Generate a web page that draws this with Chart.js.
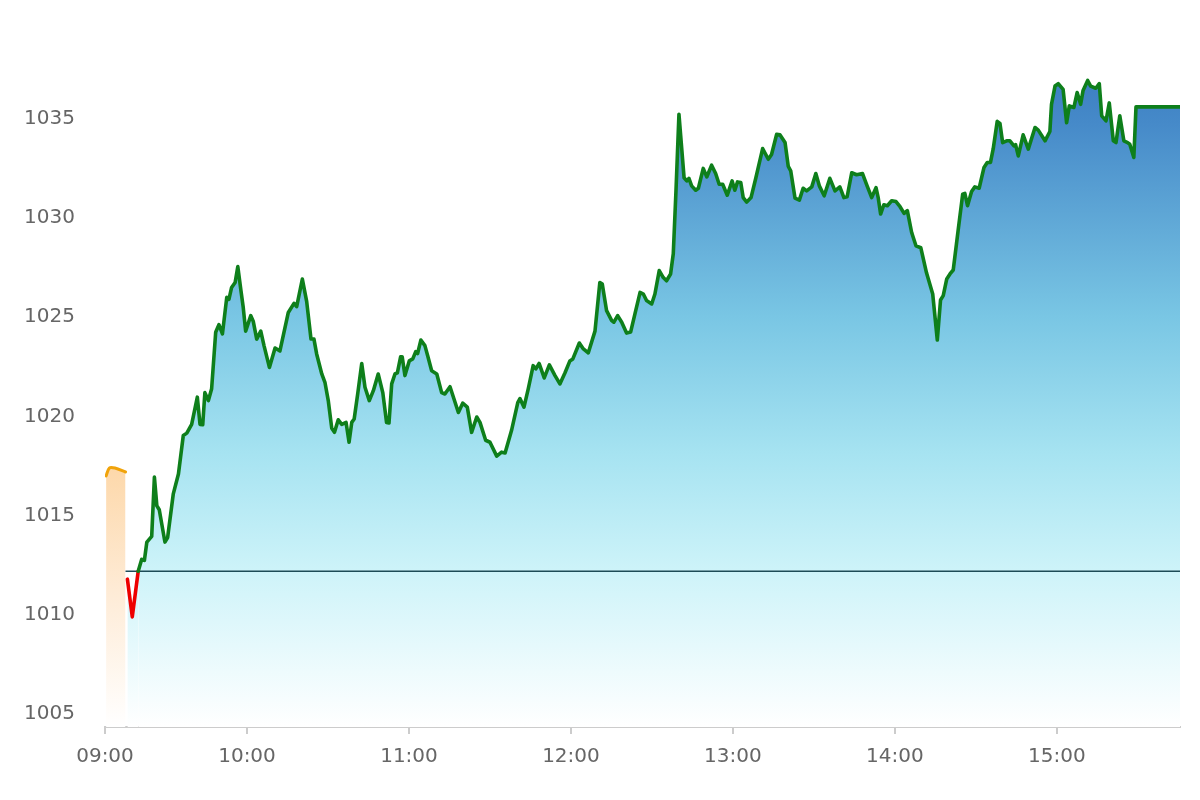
<!DOCTYPE html>
<html>
<head>
<meta charset="utf-8">
<title>Intraday index</title>
<script src="https://cdn.jsdelivr.net/npm/chart.js@4.4.1/dist/chart.umd.min.js"></script>
<style>
  html, body { margin: 0; padding: 0; background: #fff; }
  #wrap { width: 1200px; height: 800px; }
</style>
</head>
<body>
<div id="wrap"><canvas id="chart" width="1200" height="800"></canvas></div>
<script>
// Minutes after 09:00 and index values.
const preTimes = [7.8, 9.0, 11.1, 15.0];
const preValues = [1017.0, 1017.4, 1017.4, 1017.2];

const priceTimes = [
  15.7, 17.5, 19.7, 21.0, 22.0, 22.9, 24.7, 25.7, 26.6, 27.5,
  29.6, 30.6, 32.7, 34.6, 36.4, 37.7, 39.5, 41.6, 42.6, 43.6,
  44.4, 45.7, 46.9, 48.4, 49.6, 50.9, 52.5, 53.3, 54.3, 55.6,
  56.6, 57.7, 58.6, 59.5, 61.4, 62.3, 63.6, 65.1, 66.3, 68.3,
  70.4, 72.2, 75.3, 77.4, 78.4, 80.5, 82.1, 83.7, 84.8, 85.8,
  87.7, 88.9, 90.1, 91.4, 92.4, 93.8, 95.1, 96.7, 97.8, 98.8,
  99.7, 101.0, 102.5, 103.7, 105.3, 106.8, 108.6, 110.3, 111.7, 112.6,
  113.6, 114.8, 115.7, 116.9, 117.5, 118.5, 120.1, 121.4, 122.5, 123.2,
  124.4, 125.9, 126.9, 128.4, 130.3, 132.1, 133.3, 135.2, 138.3, 139.9,
  141.6, 143.2, 145.1, 146.3, 148.4, 150.0, 152.5, 154.3, 155.6, 158.0,
  160.3, 161.1, 162.6, 164.2, 166.0, 167.0, 168.2, 170.1, 172.0, 174.1,
  175.9, 177.8, 179.6, 180.7, 183.1, 184.6, 186.4, 188.9, 190.7, 191.6,
  193.2, 195.1, 195.9, 197.3, 198.8, 200.6, 202.1, 203.7, 205.6, 206.8,
  208.0, 209.9, 211.1, 212.7, 214.2, 215.4, 216.9, 217.9, 218.9, 220.0,
  220.7, 221.9, 222.9, 223.7, 224.7, 226.2, 227.2, 229.0, 230.3, 232.1,
  233.6, 234.9, 236.2, 237.9, 239.7, 240.7, 241.7, 242.9, 243.8, 245.1,
  246.7, 248.5, 251.0, 253.1, 254.3, 256.2, 257.4, 259.3, 260.5, 261.4,
  263.0, 264.6, 266.0, 267.3, 269.2, 270.7, 272.0, 273.8, 275.9, 277.8,
  279.6, 281.1, 282.3, 284.0, 285.8, 288.0, 289.7, 291.4, 293.0, 293.8,
  294.7, 295.9, 297.2, 298.8, 300.4, 301.9, 303.4, 304.6, 306.2, 307.8,
  309.6, 311.7, 314.0, 315.7, 316.9, 317.9, 319.2, 320.4, 321.6, 323.4,
  325.1, 325.9, 326.9, 328.4, 329.6, 331.2, 333.0, 334.2, 335.4, 336.4,
  337.9, 338.9, 339.9, 341.4, 342.6, 344.1, 344.7, 345.7, 347.5, 349.4,
  351.9, 353.1, 355.6, 357.4, 358.0, 359.3, 360.5, 362.3, 363.6, 364.6,
  366.3, 367.5, 368.8, 369.7, 371.4, 372.5, 374.4, 375.7, 376.6, 378.2,
  379.4, 380.9, 381.9, 383.3, 384.8, 386.2, 387.0, 388.5, 389.3, 405.6
];
const priceValues = [
  1011.8, 1009.9, 1012.2, 1012.8, 1012.75, 1013.67, 1013.96, 1016.94, 1015.5, 1015.3,
  1013.67, 1013.9, 1016.1, 1017.1, 1019.04, 1019.16, 1019.6, 1020.97, 1019.6, 1019.58,
  1021.2, 1020.8, 1021.4, 1024.24, 1024.63, 1024.16, 1026.0, 1025.9, 1026.5, 1026.75,
  1027.55, 1026.4, 1025.5, 1024.3, 1025.08, 1024.8, 1023.9, 1024.3, 1023.57, 1022.47,
  1023.45, 1023.3, 1025.24, 1025.7, 1025.53, 1026.92, 1025.8, 1023.9, 1023.9, 1023.15,
  1022.14, 1021.7, 1020.8, 1019.4, 1019.2, 1019.83, 1019.6, 1019.7, 1018.7, 1019.7,
  1019.87, 1021.13, 1022.67, 1021.47, 1020.8, 1021.3, 1022.14, 1021.2, 1019.7, 1019.67,
  1021.64, 1022.14, 1022.2, 1023.0, 1023.0, 1022.06, 1022.8, 1022.9, 1023.27, 1023.17,
  1023.85, 1023.57, 1023.07, 1022.3, 1022.14, 1021.2, 1021.13, 1021.5, 1020.2, 1020.67,
  1020.47, 1019.2, 1019.97, 1019.7, 1018.8, 1018.7, 1018.0, 1018.2, 1018.16, 1019.3,
  1020.7, 1020.9, 1020.47, 1021.4, 1022.56, 1022.4, 1022.67, 1021.94, 1022.6, 1022.06,
  1021.64, 1022.2, 1022.8, 1022.9, 1023.7, 1023.4, 1023.2, 1024.3, 1026.75, 1026.67,
  1025.33, 1024.83, 1024.75, 1025.08, 1024.75, 1024.2, 1024.25, 1025.17, 1026.25, 1026.17,
  1025.84, 1025.67, 1026.17, 1027.35, 1027.0, 1026.84, 1027.18, 1028.2, 1031.37, 1035.23,
  1034.05, 1032.03, 1031.87, 1032.0, 1031.62, 1031.4, 1031.5, 1032.5, 1032.07, 1032.66,
  1032.24, 1031.7, 1031.7, 1031.15, 1031.87, 1031.4, 1031.82, 1031.79, 1031.03, 1030.8,
  1031.03, 1032.03, 1033.5, 1032.96, 1033.2, 1034.22, 1034.19, 1033.8, 1032.6, 1032.38,
  1031.0, 1030.9, 1031.5, 1031.37, 1031.57, 1032.24, 1031.62, 1031.12, 1032.0, 1031.37,
  1031.57, 1031.03, 1031.07, 1032.28, 1032.18, 1032.24, 1031.62, 1031.03, 1031.53, 1031.03,
  1030.2, 1030.67, 1030.62, 1030.87, 1030.83, 1030.57, 1030.23, 1030.37, 1029.27, 1028.6,
  1028.5, 1027.24, 1026.17, 1023.85, 1025.87, 1026.09, 1026.93, 1027.18, 1027.38, 1029.36,
  1031.2, 1031.24, 1030.62, 1031.34, 1031.57, 1031.5, 1032.55, 1032.8, 1032.8, 1033.48,
  1034.87, 1034.77, 1033.8, 1033.89, 1033.89, 1033.64, 1033.7, 1033.13, 1034.19, 1033.47,
  1034.56, 1034.43, 1033.89, 1034.36, 1035.73, 1036.65, 1036.77, 1036.48, 1034.8, 1035.65,
  1035.57, 1036.32, 1035.73, 1036.43, 1036.93, 1036.65, 1036.54, 1036.77, 1035.15, 1034.9,
  1035.8, 1033.89, 1033.8, 1035.15, 1033.89, 1033.8, 1033.72, 1033.05, 1035.6, 1035.6
];

// previous close, drawn as a flat reference line
const prevClose = 1012.2;
const baseTimes = [15.0, 405.6];

const xTickPositions = [7.4, 60, 120, 180, 240, 300, 360];
const xTickLabels = ['09:00', '10:00', '11:00', '12:00', '13:00', '14:00', '15:00'];
const yTickValues = [1005, 1010, 1015, 1020, 1025, 1030, 1035];

const toPoints = (xs, ys) => xs.map((x, i) => ({ x: x, y: ys[i] }));

function mainFill(context) {
    const chart = context.chart;
    const area = chart.chartArea;
    if (!area) return 'rgba(0,0,0,0)';
    const g = chart.ctx.createLinearGradient(0, area.top, 0, area.bottom);
    g.addColorStop(0, '#3577bd');
    g.addColorStop(0.12, '#468ac9');
    g.addColorStop(0.4, '#79c6e4');
    g.addColorStop(0.6, '#a6e3f1');
    g.addColorStop(0.77, '#cdf3f9');
    g.addColorStop(0.92, '#eefbfd');
    g.addColorStop(1, '#ffffff');
    return g;
}

function preFill(context) {
    const chart = context.chart;
    const area = chart.chartArea;
    if (!area) return 'rgba(0,0,0,0)';
    const top = chart.scales.y.getPixelForValue(1017.4);
    const g = chart.ctx.createLinearGradient(0, top, 0, area.bottom);
    g.addColorStop(0, '#fdd8aa');
    g.addColorStop(0.5, '#feecd8');
    g.addColorStop(1, '#ffffff');
    return g;
}

const labelFont = { family: '"DejaVu Sans", Verdana, sans-serif', size: 20 };

new Chart(document.getElementById('chart'), {
    type: 'line',
    data: {
        datasets: [
            {
                label: 'Pre-open',
                data: toPoints(preTimes, preValues),
                borderColor: '#f0a30a',
                borderWidth: 3,
                borderJoinStyle: 'round',
                borderCapStyle: 'round',
                backgroundColor: preFill,
                fill: 'start',
                pointRadius: 0,
                tension: 0.3
            },
            {
                label: 'Index',
                data: toPoints(priceTimes, priceValues),
                borderColor: '#0e7f1b',
                borderWidth: 3.6,
                borderJoinStyle: 'round',
                borderCapStyle: 'round',
                backgroundColor: mainFill,
                fill: 'start',
                pointRadius: 0,
                tension: 0,
                segment: {
                    borderColor: ctx => Math.max(ctx.p0.parsed.y, ctx.p1.parsed.y) <= prevClose + 0.001 ? '#ee0000' : '#0e7f1b'
                }
            },
            {
                label: 'Previous close',
                data: baseTimes.map(x => ({ x: x, y: prevClose })),
                borderColor: '#1d4b56',
                borderWidth: 1.5,
                fill: false,
                pointRadius: 0
            }
        ]
    },
    options: {
        responsive: false,
        animation: false,
        devicePixelRatio: 1,
        layout: { padding: { top: 0, right: 20, left: 0, bottom: 0 } },
        plugins: {
            legend: { display: false },
            tooltip: { enabled: false },
            filler: { drawTime: 'beforeDatasetsDraw', propagate: false }
        },
        scales: {
            x: {
                type: 'linear',
                min: 7.4,
                max: 405.6,
                afterBuildTicks: axis => { axis.ticks = xTickPositions.map(v => ({ value: v })); },
                afterFit: axis => { axis.height = 73; },
                ticks: {
                    autoSkip: false,
                    maxRotation: 0,
                    padding: 11,
                    color: '#666',
                    font: labelFont,
                    callback: (value, index) => xTickLabels[index]
                },
                grid: { display: true, drawOnChartArea: false, drawTicks: true, tickLength: 7, color: '#cccccc', lineWidth: 2 },
                border: { display: true, color: '#cccccc', width: 2 }
            },
            y: {
                min: 1004.35,
                max: 1038.87,
                afterBuildTicks: axis => { axis.ticks = yTickValues.map(v => ({ value: v })); },
                afterFit: axis => { axis.width = 105; },
                ticks: {
                    padding: 30,
                    color: '#666',
                    font: labelFont,
                    callback: value => String(value)
                },
                grid: { display: false, drawTicks: false },
                border: { display: false }
            }
        }
    }
});
</script>
</body>
</html>
